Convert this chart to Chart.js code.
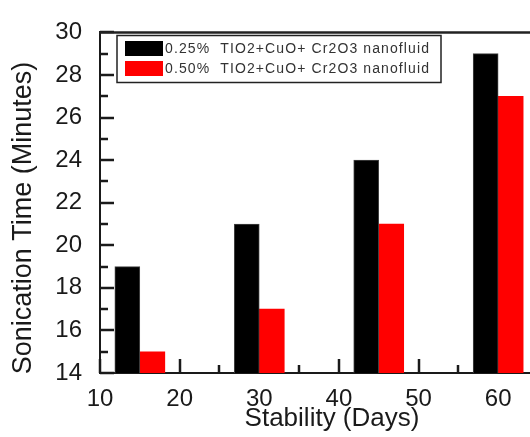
<!DOCTYPE html>
<html>
<head>
<meta charset="utf-8">
<script src="https://cdn.jsdelivr.net/npm/chart.js@4.4.0/dist/chart.umd.min.js"></script>
<style>
  html, body { margin: 0; padding: 0; background: #fff; overflow: hidden; }
  #wrap { width: 530px; height: 437px; position: relative; }
</style>
</head>
<body>
<div id="wrap"><canvas id="chart"></canvas></div>
<script>
// data
const days = [15, 30, 45, 60];
const time025 = [19, 21, 24, 29];
const time050 = [15, 17, 21, 27];
const seriesNames = ['0.25%  TIO2+CuO+ Cr2O3 nanofluid', '0.50%  TIO2+CuO+ Cr2O3 nanofluid'];
const seriesColors = ['#000000', '#ff0000'];
const xTicks = [10, 15, 20, 25, 30, 35, 40, 45, 50, 55, 60];
const yTicks = [14, 15, 16, 17, 18, 19, 20, 21, 22, 23, 24, 25, 26, 27, 28, 29, 30];
const xTitle = 'Stability (Days)';
const yTitle = 'Sonication Time (Minutes)';

const FONT = '"Liberation Sans", Arial, sans-serif';
const INK = '#1a1a1a';

function line(ctx, x1, y1, x2, y2) {
  ctx.beginPath();
  ctx.moveTo(x1, y1);
  ctx.lineTo(x2, y2);
  ctx.stroke();
}

// inward tick marks, drawn under the bars
const innerTicks = {
  id: 'innerTicks',
  beforeDatasetsDraw(chart) {
    const { ctx, chartArea: a } = chart;
    const xs = chart.scales.x, ys = chart.scales.y;
    ctx.save();
    ctx.strokeStyle = INK;
    ctx.lineWidth = 2.5;
    yTicks.forEach(v => {
      const y = Math.round(ys.getPixelForValue(v));
      const len = v % 2 === 0 ? 14 : 8;
      line(ctx, a.left, y, a.left + len, y);
    });
    xTicks.forEach(v => {
      const x = Math.round(xs.getPixelForValue(v));
      const len = v % 10 === 0 ? 14 : 8;
      line(ctx, x, a.bottom, x, a.bottom - len);
    });
    ctx.restore();
  }
};

// top frame line, boxed legend and axis titles
const frame = {
  id: 'frame',
  afterDraw(chart) {
    const { ctx, chartArea: a } = chart;
    ctx.save();
    ctx.strokeStyle = '#222';
    ctx.lineWidth = 2.5;
    line(ctx, a.left - 1, a.top, ctx.canvas.width, a.top);

    // legend box
    ctx.lineWidth = 1.5;
    ctx.strokeStyle = '#222';
    ctx.strokeRect(117, 35.5, 324, 47);
    chart.data.datasets.forEach((ds, i) => {
      const y = 41 + i * 20;
      ctx.fillStyle = ds.backgroundColor;
      ctx.fillRect(125, y, 38, 15);
      ctx.fillStyle = '#333';
      ctx.font = '14px ' + FONT;
      ctx.textBaseline = 'middle';
      ctx.textAlign = 'left';
      const w = ctx.measureText(ds.label).width;
      ctx.letterSpacing = ((265 - w) / ds.label.length).toFixed(2) + 'px';
      ctx.fillText(ds.label, 165, y + 8);
      ctx.letterSpacing = '0px';
    });

    // axis titles
    ctx.fillStyle = INK;
    ctx.textAlign = 'center';
    ctx.textBaseline = 'middle';
    ctx.font = '26px ' + FONT;
    ctx.fillText(xTitle, 332, 419);
    ctx.translate(24, 218);
    ctx.rotate(-Math.PI / 2);
    ctx.font = '27px ' + FONT;
    ctx.fillText(yTitle, 0, 0);
    ctx.restore();
  }
};

new Chart(document.getElementById('chart'), {
  type: 'bar',
  data: {
    datasets: [
      {
        label: seriesNames[0],
        data: days.map((d, i) => ({ x: d, y: time025[i] })),
        backgroundColor: seriesColors[0],
        borderColor: '#444',
        borderWidth: 1,
        barThickness: 25
      },
      {
        label: seriesNames[1],
        data: days.map((d, i) => ({ x: d, y: time050[i] })),
        backgroundColor: seriesColors[1],
        borderWidth: 0,
        barThickness: 25
      }
    ]
  },
  options: {
    responsive: true,
    maintainAspectRatio: false,
    animation: false,
    layout: { padding: { top: 23, left: 0, right: 0, bottom: 0 } },
    plugins: {
      legend: { display: false },
      tooltip: { enabled: false }
    },
    scales: {
      x: {
        type: 'linear',
        offset: false,
        min: 10,
        max: 64,
        afterBuildTicks: s => { s.ticks = xTicks.filter(v => v % 10 === 0).map(v => ({ value: v })); },
        afterFit: s => { s.height = 64; s.paddingRight = 0; },
        grid: { display: false, drawTicks: false, offset: false },
        border: { display: true, color: INK, width: 2 },
        ticks: {
          padding: 12,
          color: INK,
          font: { family: FONT, size: 24 },
          maxRotation: 0,
          autoSkip: false
        }
      },
      y: {
        min: 14,
        max: 30,
        afterBuildTicks: s => { s.ticks = yTicks.filter(v => v % 2 === 0).map(v => ({ value: v })); },
        afterFit: s => { s.width = 100; },
        grid: { display: false, drawTicks: false },
        border: { display: true, color: INK, width: 2 },
        ticks: {
          padding: 18,
          color: INK,
          font: { family: FONT, size: 24 },
          autoSkip: false
        }
      }
    }
  },
  plugins: [innerTicks, frame]
});
</script>
</body>
</html>
